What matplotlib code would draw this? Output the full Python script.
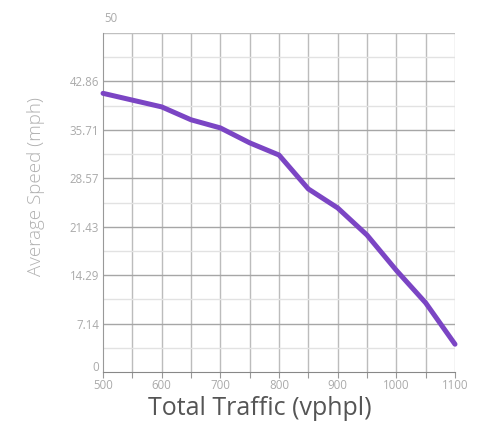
import matplotlib
matplotlib.use("Agg")
import matplotlib.pyplot as plt
import matplotlib.transforms as mtransforms
import numpy as np

traffic = [500, 550, 600, 650, 700, 750, 800, 850, 900, 950, 1000, 1050, 1100]
speed = [41.1, 40.1, 39.1, 37.2, 36.0, 33.8, 32.0, 27.0, 24.2, 20.2, 15.0, 10.2, 4.1]

x_ticks = [500, 600, 700, 800, 900, 1000, 1100]
y_ticks = [0, 7.14, 14.29, 21.43, 28.57, 35.71, 42.86]
y_tick_labels = ["0", "7.14", "14.29", "21.43", "28.57", "35.71", "42.86"]

plt.rcParams['font.family'] = ['Open Sans', 'DejaVu Sans']

fig = plt.figure(figsize=(4.83, 4.24), dpi=100)
ax = fig.add_axes([0.2133, 0.1226, 0.7287, 0.7996])

ax.set_xlim(500, 1100)
ax.set_ylim(0, 50)

# grid: vertical every 50, major horizontal every 50/7, minor halfway between
for xv in np.arange(550, 1100, 50):
    ax.axvline(xv, color="#bcbcbc", lw=1.0, zorder=1)
ax.axvline(1100, color="#c8c8c8", lw=1.0, zorder=1)
step = 50 / 7
for i in range(1, 8):
    ax.axhline(i * step, color="#a6a6a6" if i < 7 else "#c0c0c0", lw=1.0, zorder=1)
for i in range(7):
    ax.axhline((i + 0.5) * step, color="#e2e2e2", lw=1.0, zorder=1)

ax.plot(traffic, speed, color="#7b45c4", lw=3.6, solid_joinstyle="round",
        solid_capstyle="round", zorder=3, clip_on=False)

for s in ["top", "right"]:
    ax.spines[s].set_visible(False)
ax.spines["left"].set_color("#999999")
ax.spines["bottom"].set_color("#888888")

ax.set_xticks(np.arange(500, 1101, 50))
ax.set_xticklabels([str(v) if v in x_ticks else "" for v in range(500, 1101, 50)])
ax.tick_params(axis="x", length=4, color="#999999", labelcolor="#aaaaaa",
               labelsize=8.3, pad=1)
ax.set_yticks(y_ticks)
ax.set_yticklabels(y_tick_labels)
ax.tick_params(axis="y", length=0, labelcolor="#aaaaaa", labelsize=8.3, pad=3)

# nudge the "0" label up so it clears the "500" label below the corner
zero_label = ax.get_yticklabels()[0]
zero_label.set_transform(zero_label.get_transform() +
                         mtransforms.ScaledTranslation(0, 4 / 72, fig.dpi_scale_trans))

ax.text(514, 52.2, "50", color="#aaaaaa", fontsize=8.3, ha="center", va="center",
        clip_on=False)

ax.set_xlabel("Total Traffic (vphpl)", fontsize=18, color="#555555")
ax.xaxis.set_label_coords(0.446, -0.072)
ax.set_ylabel("Average Speed (mph)", fontsize=13.5, color="#b0b0b0",
              fontweight="light")
ax.yaxis.label.set_va("center")
ax.yaxis.set_label_coords(-0.19, 0.547)

fig.savefig("out.png", dpi=100, facecolor="white")
